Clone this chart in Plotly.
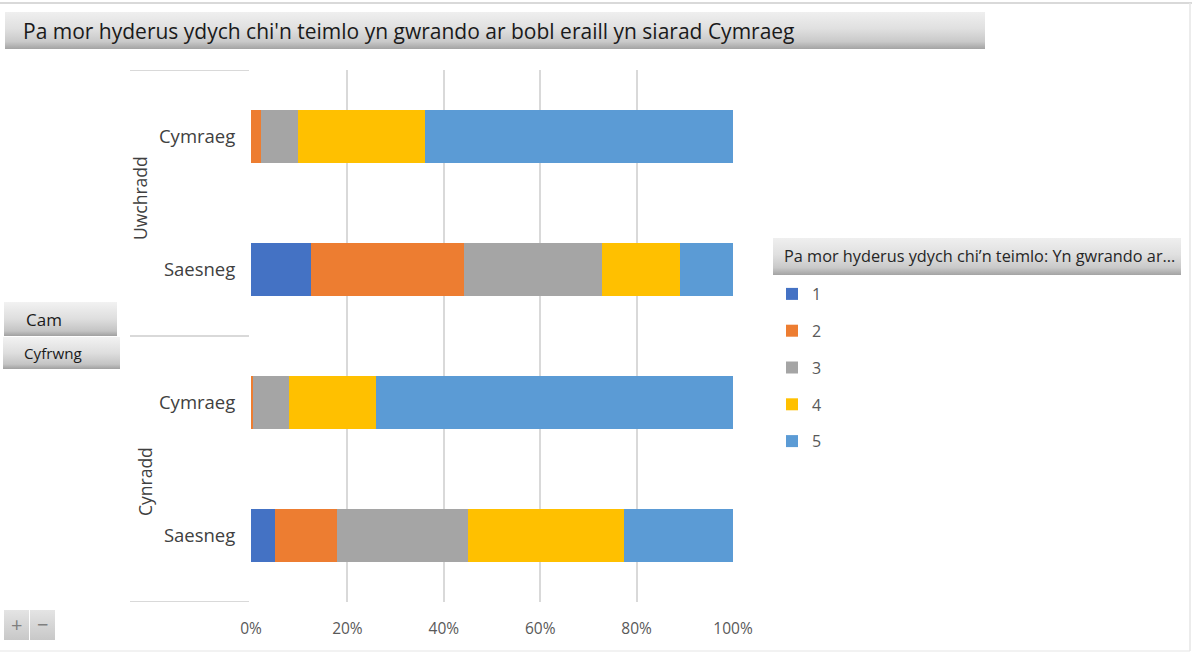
import base64
import plotly.graph_objects as go

# ---------------- data ----------------
groups = ["Uwchradd", "Uwchradd", "Cynradd", "Cynradd"]
subcats = ["Cymraeg", "Saesneg", "Cymraeg", "Saesneg"]
levels = ["1", "2", "3", "4", "5"]
v1 = [0.0, 12.4, 0.0, 4.9]
v2 = [2.0, 31.7, 0.4, 12.9]
v3 = [7.8, 28.8, 7.4, 27.2]
v4 = [26.4, 16.2, 18.2, 32.4]
v5 = [63.8, 10.9, 74.0, 22.6]
x_ticks = [0, 20, 40, 60, 80, 100]
x_tick_labels = ["0%", "20%", "40%", "60%", "80%", "100%"]
title_text = "Pa mor hyderus ydych chi'n teimlo yn gwrando ar bobl eraill yn siarad Cymraeg"
legend_title = "Pa mor hyderus ydych chi\u2019n teimlo: Yn gwrando ar..."
buttons = ["Cam", "Cyfrwng"]

colors = ["#4472C4", "#ED7D31", "#A5A5A5", "#FFC000", "#5B9BD5"]
series = [v1, v2, v3, v4, v5]

W, H = 1192, 653
L, R, T, B = 251, 733, 70, 602
FONT = "Open Sans"


def px(x):
    return (x - L) / (R - L)


def py(y):
    return (B - y) / (B - T)


def grad(stops):
    s = "".join(f'<stop offset="{o}" stop-color="{c}"/>' for o, c in stops)
    svg = ('<svg xmlns="http://www.w3.org/2000/svg" width="10" height="10" viewBox="0 0 10 10" '
           'preserveAspectRatio="none"><defs><linearGradient id="g" x1="0" y1="0" x2="0" y2="1">'
           f'{s}</linearGradient></defs><rect width="10" height="10" fill="url(#g)"/></svg>')
    return "data:image/svg+xml;base64," + base64.b64encode(svg.encode()).decode()


keys = [f"{g}|{s}" for g, s in zip(groups, subcats)]

fig = go.Figure()
for name, vals, col in zip(levels, series, colors):
    fig.add_trace(go.Bar(
        y=keys, x=vals, name=name, orientation="h",
        marker=dict(color=col, line=dict(width=0)),
        legendgroup=name,
    ))

fig.update_layout(
    width=W, height=H,
    margin=dict(l=L, r=W - R, t=T, b=H - B, pad=0),
    barmode="stack", bargap=0.6,
    paper_bgcolor="white", plot_bgcolor="white",
    font=dict(family=FONT, color="#404040"),
    showlegend=True,
    legend=dict(
        x=px(772), y=py(277), xanchor="left", yanchor="top",
        font=dict(size=16, color="#595959", family=FONT),
        tracegroupgap=13, traceorder="grouped",
        bgcolor="rgba(0,0,0,0)",
    ),
    xaxis=dict(
        range=[0, 100], tickmode="array", tickvals=x_ticks, ticktext=x_tick_labels,
        showgrid=True, gridcolor="#d9d9d9", gridwidth=1.5,
        zeroline=False, showline=False,
        tickfont=dict(size=15.5, color="#595959", family=FONT),
        ticks="outside", ticklen=12, tickcolor="rgba(0,0,0,0)",
        fixedrange=True,
    ),
    yaxis=dict(
        type="category", categoryorder="array", categoryarray=keys,
        range=[3.5, -0.5],
        tickmode="array", tickvals=keys, ticktext=subcats,
        showgrid=False, zeroline=False, showline=False,
        tickfont=dict(size=18.5, color="#404040", family=FONT),
        ticks="outside", ticklen=11, tickcolor="rgba(0,0,0,0)",
        fixedrange=True,
    ),
)

shapes = []
for yv in [-0.5, 1.5, 3.5]:
    shapes.append(dict(type="line", xref="paper", yref="y", x0=px(130), x1=px(249),
                       y0=yv, y1=yv, line=dict(color="#d9d9d9", width=2)))
shapes.append(dict(type="line", xref="paper", yref="paper", x0=px(0), x1=px(1192),
                   y0=py(3), y1=py(3), line=dict(color="#d9d9d9", width=2)))
shapes.append(dict(type="line", xref="paper", yref="paper", x0=px(0), x1=px(1190),
                   y0=py(651), y1=py(651), line=dict(color="#eeeeee", width=1.5)))
shapes.append(dict(type="line", xref="paper", yref="paper", x0=px(1190), x1=px(1190),
                   y0=py(3), y1=py(651), line=dict(color="#e6e6e6", width=1.5)))
fig.update_layout(shapes=shapes)

bar_grad = grad([(0, "#efefef"), (0.45, "#e0e0e0"), (0.8, "#c9c9c9"), (1, "#a3a3a3")])
btn_grad = grad([(0, "#f2f2f2"), (0.5, "#dedede"), (0.85, "#c4c4c4"), (1, "#a0a0a0")])
pm_grad = grad([(0, "#e4e4e4"), (1, "#c8c8c8")])


def img(src, x0, y0, x1, y1):
    return dict(source=src, xref="paper", yref="paper", x=px(x0), y=py(y0),
                sizex=px(x1) - px(x0), sizey=py(y0) - py(y1),
                xanchor="left", yanchor="top", sizing="stretch", layer="below")


images = [
    img(bar_grad, 5, 12, 985, 49),
    img(bar_grad, 773, 238, 1181, 275),
    img(btn_grad, 4, 302, 117, 336),
    img(btn_grad, 3, 337, 120, 369),
    img(pm_grad, 4, 610, 29, 640),
    img(pm_grad, 30, 610, 55, 640),
]
fig.update_layout(images=images)

ann = []
ann.append(dict(text=title_text, xref="paper", yref="paper", x=px(21), y=py(31),
                xanchor="left", yanchor="middle", showarrow=False,
                font=dict(size=21, color="#1a1a1a", family=FONT)))
ann.append(dict(text=legend_title, xref="paper", yref="paper", x=px(782), y=py(256),
                xanchor="left", yanchor="middle", showarrow=False,
                font=dict(size=16.3, color="#262626", family=FONT)))
ann.append(dict(text=buttons[0], xref="paper", yref="paper", x=px(24), y=py(319),
                xanchor="left", yanchor="middle", showarrow=False,
                font=dict(size=17, color="#1a1a1a", family=FONT)))
ann.append(dict(text=buttons[1], xref="paper", yref="paper", x=px(22), y=py(353),
                xanchor="left", yanchor="middle", showarrow=False,
                font=dict(size=15.2, color="#1a1a1a", family=FONT)))
ann.append(dict(text="+", xref="paper", yref="paper", x=px(16.5), y=py(624),
                xanchor="center", yanchor="middle", showarrow=False,
                font=dict(size=20, color="#7f7f7f", family=FONT)))
ann.append(dict(text="\u2212", xref="paper", yref="paper", x=px(42.5), y=py(624),
                xanchor="center", yanchor="middle", showarrow=False,
                font=dict(size=20, color="#7f7f7f", family=FONT)))
group_shift = {"Uwchradd": (-2, 5), "Cynradd": (3, -13)}
seen = []
for i, g in enumerate(groups):
    if g in seen:
        continue
    seen.append(g)
    idx = [j for j, gg in enumerate(groups) if gg == g]
    xs, ys = group_shift[g]
    ann.append(dict(text=g, xref="paper", yref="y", x=px(142), y=sum(idx) / len(idx),
                    xshift=xs, yshift=ys,
                    xanchor="center", yanchor="middle", textangle=-90, showarrow=False,
                    font=dict(size=17.5, color="#404040", family=FONT)))
fig.update_layout(annotations=ann)

fig.write_html("out.html", config={"displayModeBar": False},
               post_script="document.body.style.margin='0';document.body.style.padding='0';")
